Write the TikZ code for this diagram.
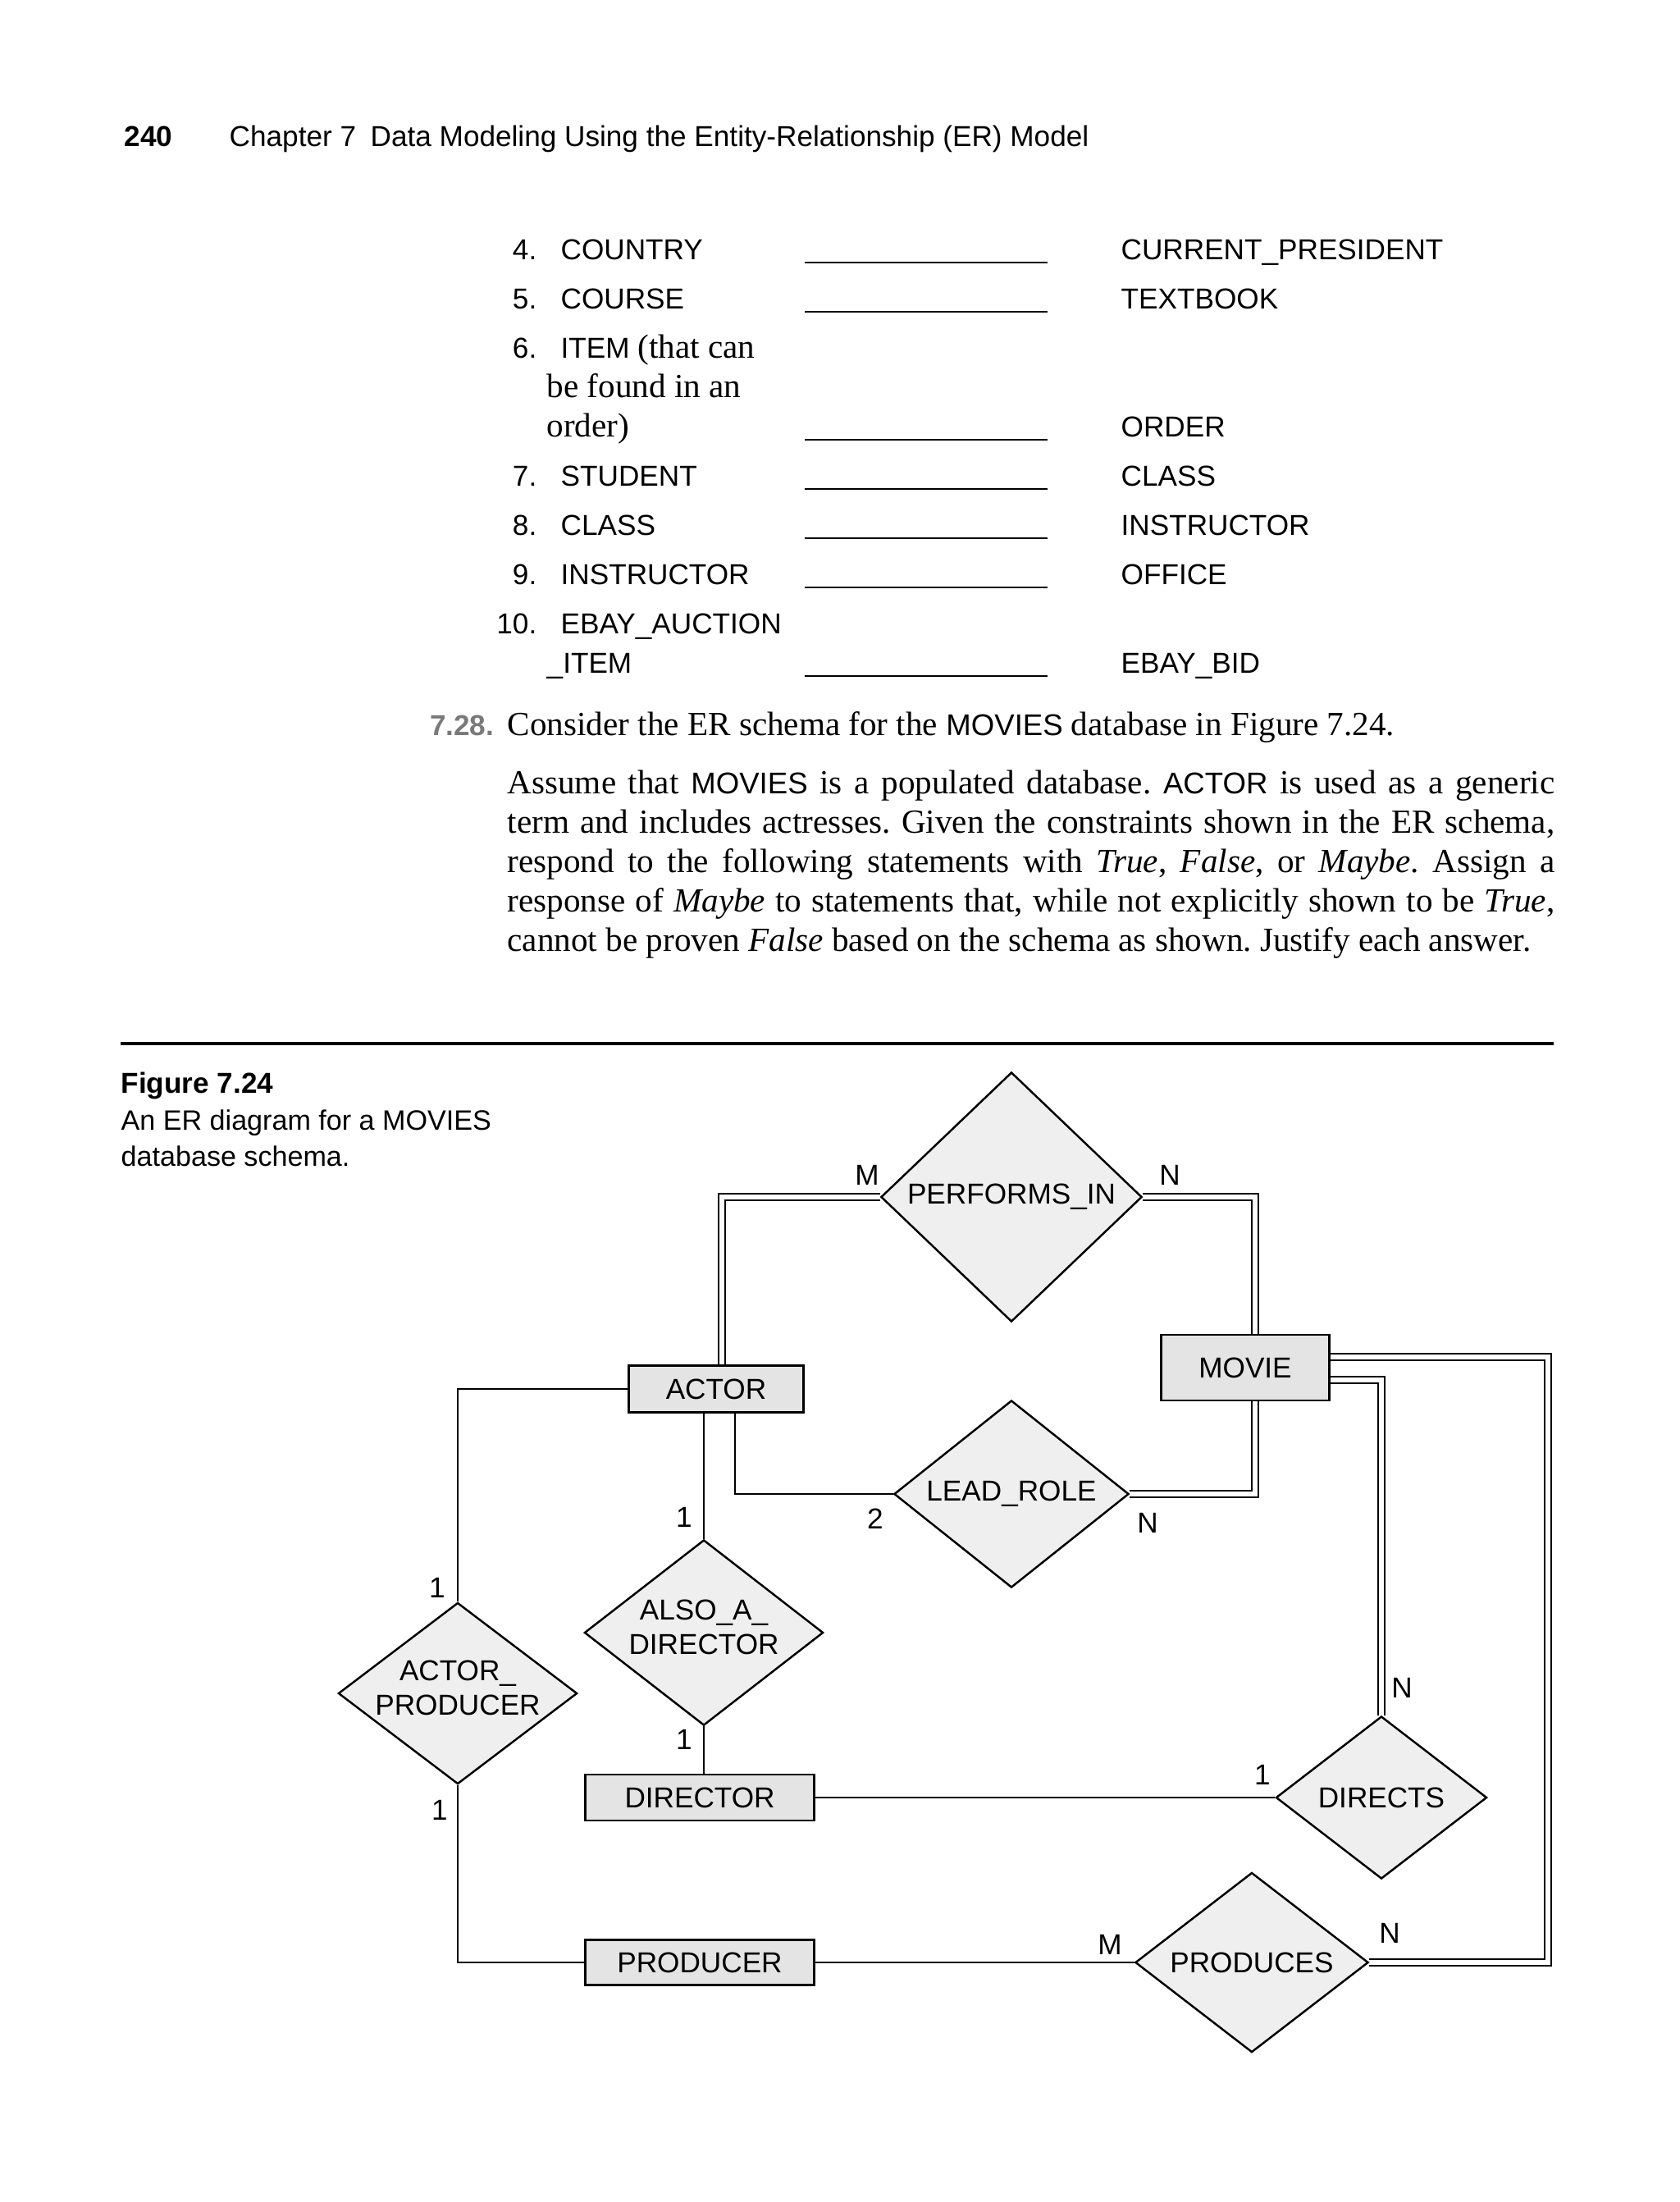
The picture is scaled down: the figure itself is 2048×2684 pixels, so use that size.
\documentclass[tikz,border=0pt]{standalone}
\usepackage{fontspec}
\setmainfont{Liberation Serif}
\setsansfont{Liberation Sans}
\usepackage{tikz}
\usetikzlibrary{shapes.geometric,
                calc,
                backgrounds}
\definecolor{relfill}{HTML}{EFEFEF}
\definecolor{entfill}{HTML}{E4E4E4}
\definecolor{exgray}{HTML}{7A7A7A}
\newcommand{\sanstext}{\sffamily\fontsize{10}{12}\selectfont}
\newcommand{\sansbold}{\sffamily\bfseries\fontsize{10}{12}\selectfont}
\newcommand{\captext}{\sffamily\fontsize{9.7}{12}\selectfont}
\newcommand{\bodyfont}{\rmfamily\fontsize{11.7}{13.6}\selectfont}
\newcommand{\insans}[1]{{\sffamily\fontsize{10.4}{12}\selectfont #1}}
\newcommand{\fullline}[1]{\makebox[12.76cm][s]{#1}}
\frenchspacing

\begin{document}
\begin{tikzpicture}[x=0.01cm,y=-0.01cm]

\tikzset{
entity/.style={
draw=black,
line width=0.8pt,
fill=entfill,
inner sep=0pt,
font=\sanstext
},
relname/.style={
align=center,
inner sep=0pt,
font=\sanstext
},
relation/.style={
diamond,
draw=black,
line width=0.7pt,
fill=relfill,
inner sep=0pt
},
reltext/.style={label={[relname]center:#1}},
reltextup/.style={label={[relname,yshift=2pt]center:#1}},
erline/.style={line width=0.7pt},
erdouble/.style={line width=0.7pt, double, double distance=1.7pt},
card/.style={font=\sanstext, inner sep=0pt},
plain/.style={anchor=base west, inner sep=0pt, font=\sanstext},
itemno/.style={anchor=base east, inner sep=0pt, font=\sanstext},
bodyline/.style={anchor=base west, inner sep=0pt, font=\bodyfont},
blank/.style={line width=0.75pt}
}

\useasboundingbox (0,0) rectangle (2048,2684);

%----------------------------------
% RUNNING HEAD
%----------------------------------

\node[plain,font=\sansbold] (pageno) at (151,178) {240};
\node[plain] (runhead) at (279,178) {Chapter 7\enspace Data Modeling Using the Entity-Relationship (ER) Model};

%----------------------------------
% TABLE OF PAIRS
%----------------------------------

\node[itemno] (n4) at (655,316) {4.};
\node[plain] (l4) at (683,316) {COUNTRY};
\node[plain] (r4) at (1366,316) {CURRENT\_PRESIDENT};

\node[itemno] (n5) at (655,376) {5.};
\node[plain] (l5) at (683,376) {COURSE};
\node[plain] (r5) at (1366,376) {TEXTBOOK};

\node[itemno] (n6) at (655,436) {6.};
\node[plain] (l6) at (683,436) {ITEM {\bodyfont (that can}};
\node[bodyline] (l6b) at (666,484) {be found in an};
\node[bodyline] (l6c) at (666,532) {order)};
\node[plain] (r6) at (1366,532) {ORDER};

\node[itemno] (n7) at (655,592) {7.};
\node[plain] (l7) at (683,592) {STUDENT};
\node[plain] (r7) at (1366,592) {CLASS};

\node[itemno] (n8) at (655,652) {8.};
\node[plain] (l8) at (683,652) {CLASS};
\node[plain] (r8) at (1366,652) {INSTRUCTOR};

\node[itemno] (n9) at (655,712) {9.};
\node[plain] (l9) at (683,712) {INSTRUCTOR};
\node[plain] (r9) at (1366,712) {OFFICE};

\node[itemno] (n10) at (655,772) {10.};
\node[plain] (l10) at (683,772) {EBAY\_AUCTION};
\node[plain] (l10b) at (666,820) {\_ITEM};
\node[plain] (r10) at (1366,820) {EBAY\_BID};

\foreach \yy in {316,376,532,592,652,712,820}
  \draw[blank] (981,\yy+4) -- (1277,\yy+4);

%----------------------------------
% EXERCISE 7.28
%----------------------------------

\node[itemno,font=\sansbold,text=exgray] (exno) at (603,896) {7.28.};
\node[bodyline] (p0) at (618,896) {Consider the ER schema for the \insans{MOVIES} database in Figure 7.24.};
\node[bodyline] (p1) at (618,967) {\fullline{Assume that \insans{MOVIES} is a populated database. \insans{ACTOR} is used as a generic}};
\node[bodyline] (p2) at (618,1015) {\fullline{term and includes actresses. Given the constraints shown in the ER schema,}};
\node[bodyline] (p3) at (618,1063) {\fullline{respond to the following statements with \emph{True}, \emph{False}, or \emph{Maybe}. Assign a}};
\node[bodyline] (p4) at (618,1111) {\fullline{response of \emph{Maybe} to statements that, while not explicitly shown to be \emph{True},}};
\node[bodyline] (p5) at (618,1159) {cannot be proven \emph{False} based on the schema as shown. Justify each answer.};

%----------------------------------
% FIGURE CAPTION
%----------------------------------

\draw[line width=0.9pt] (147,1272) -- (1894,1272);

\node[plain,font=\sansbold] (figno) at (147,1332) {Figure 7.24};
\node[plain,font=\captext] (figcap1) at (147,1377) {An ER diagram for a MOVIES};
\node[plain,font=\captext] (figcap2) at (147,1421) {database schema.};

%----------------------------------
% ER DIAGRAM
%----------------------------------

\node[relation,reltext={PERFORMS\_IN},minimum width=3.18cm,minimum height=3.04cm] (perf) at (1233,1459) {};
\node[entity,minimum width=2.13cm,minimum height=0.57cm] (actor) at (873,1693) {ACTOR};
\node[entity,minimum width=2.05cm,minimum height=0.80cm] (movie) at (1518,1667) {MOVIE};
\node[relation,reltext={LEAD\_ROLE},minimum width=2.86cm,minimum height=2.28cm] (lead) at (1233,1821) {};
\node[relation,reltextup={ACTOR\_\\PRODUCER},minimum width=2.91cm,minimum height=2.21cm] (actprod) at (558,2064) {};
\node[relation,reltextup={ALSO\_A\_\\DIRECTOR},minimum width=2.91cm,minimum height=2.26cm] (alsodir) at (858,1990) {};
\node[entity,minimum width=2.79cm,minimum height=0.56cm] (director) at (853,2191) {DIRECTOR};
\node[relation,reltext={DIRECTS},minimum width=2.57cm,minimum height=1.98cm] (directs) at (1684,2191) {};
\node[entity,minimum width=2.79cm,minimum height=0.55cm] (producer) at (853,2392) {PRODUCER};
\node[relation,reltext={PRODUCES},minimum width=2.84cm,minimum height=2.19cm] (produces) at (1526,2392) {};

\coordinate (rside) at (1887,1654);

% connectors
\begin{scope}[on background layer]
\draw[erdouble] (perf.west) -| ($(actor.north)+(7,0)$);
\draw[erdouble] (perf.east) -| ($(movie.north)+(12,0)$);
\draw[erline] ($(actor.south)+(23,0)$) |- (lead.west);
\draw[erdouble] (lead.east) -| ($(movie.south)+(12,0)$);
\draw[erline] (actor.west) -| (actprod.north);
\draw[erline] (actprod.south) |- (producer.west);
\draw[erline] (alsodir.north) -- (alsodir.north |- actor.south);
\draw[erline] (alsodir.south) -- (alsodir.south |- director.north);
\draw[erline] (director.east) -- (directs.west);
\draw[erline] (producer.east) -- (produces.west);
\draw[erdouble] ($(movie.east)+(0,15)$) -| (directs.north);
\draw[erdouble] ($(movie.east)+(0,-13)$) -| (rside |- produces.east) -- (produces.east);
\end{scope}

% cardinalities
\node[card] (cpm) at (1057,1432) {M};
\node[card] (cpn) at (1426,1432) {N};
\node[card] (ca1) at (834,1849) {1};
\node[card] (cl2) at (1067,1851) {2};
\node[card] (cln) at (1399,1856) {N};
\node[card] (cap1) at (533,1935) {1};
\node[card] (cap2) at (536,2206) {1};
\node[card] (cad1) at (834,2120) {1};
\node[card] (cd1) at (1539,2163) {1};
\node[card] (cdn) at (1709,2057) {N};
\node[card] (cprm) at (1353,2370) {M};
\node[card] (cprn) at (1694,2356) {N};

\end{tikzpicture}
\end{document}
